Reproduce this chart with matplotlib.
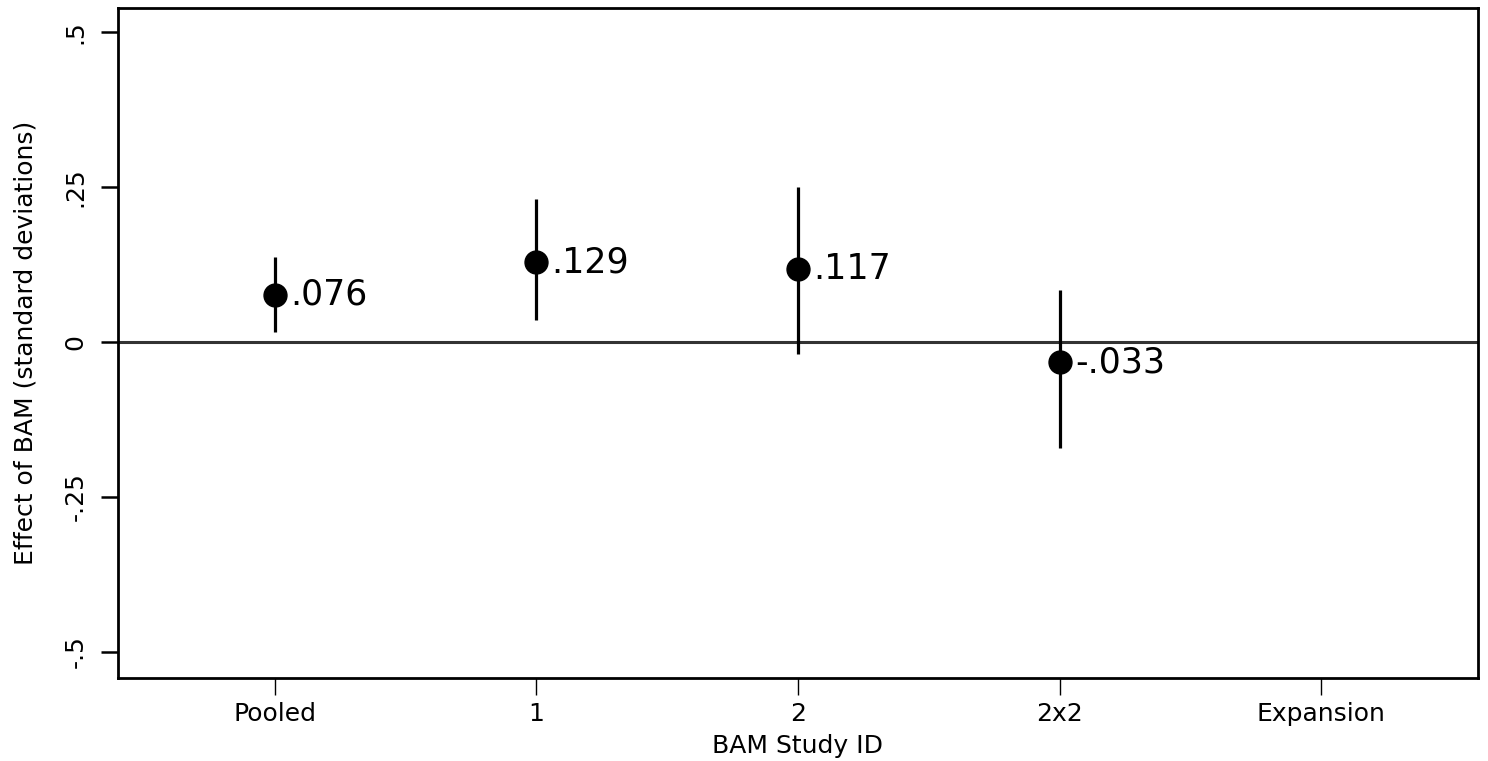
import matplotlib
matplotlib.use("Agg")
import matplotlib.pyplot as plt
import numpy as np

categories = ["Pooled", "1", "2", "2x2", "Expansion"]
estimates = [0.076, 0.129, 0.117, -0.033]
ci_low = [0.016, 0.035, -0.019, -0.171]
ci_high = [0.137, 0.231, 0.250, 0.084]
labels = [".076", ".129", ".117", "-.033"]
yticks = [-0.5, -0.25, 0, 0.25, 0.5]
ytick_labels = ["-.5", "-.25", "0", ".25", ".5"]

plt.rcParams['font.family'] = ['DejaVu Sans']
fig = plt.figure(figsize=(14.88, 7.61), dpi=100)
ax = fig.add_axes([118/1488, 1 - 678/761, (1478-118)/1488, (678-8)/761])

x = np.arange(len(estimates))
ax.axhline(0, color="#333333", lw=2.2, zorder=1)
ax.vlines(x, ci_low, ci_high, color="black", lw=2.3, zorder=2)
ax.plot(x, estimates, "o", color="black", ms=16.5, zorder=3)
for xi, yi, lab in zip(x, estimates, labels):
    ax.annotate(lab, (xi, yi), xytext=(11, 0), textcoords="offset points",
                va="center", ha="left", fontsize=25)

ax.set_xlim(-0.6, 4.6)
ax.set_ylim(-0.542, 0.5387)
ax.set_xticks(range(len(categories)))
ax.set_xticklabels(categories, fontsize=18)
ax.set_yticks(yticks)
ax.set_yticklabels(ytick_labels, fontsize=18, rotation=90, va="center")
ax.tick_params(axis="y", length=12, width=1.8, pad=10)
ax.tick_params(axis="x", length=12, width=1.0, pad=5)
for s in ax.spines.values():
    s.set_linewidth(2.0)
ax.set_xlabel("BAM Study ID", fontsize=18, labelpad=6)
ax.set_ylabel("Effect of BAM (standard deviations)", fontsize=18, labelpad=19)

fig.savefig("out.png", dpi=100)
